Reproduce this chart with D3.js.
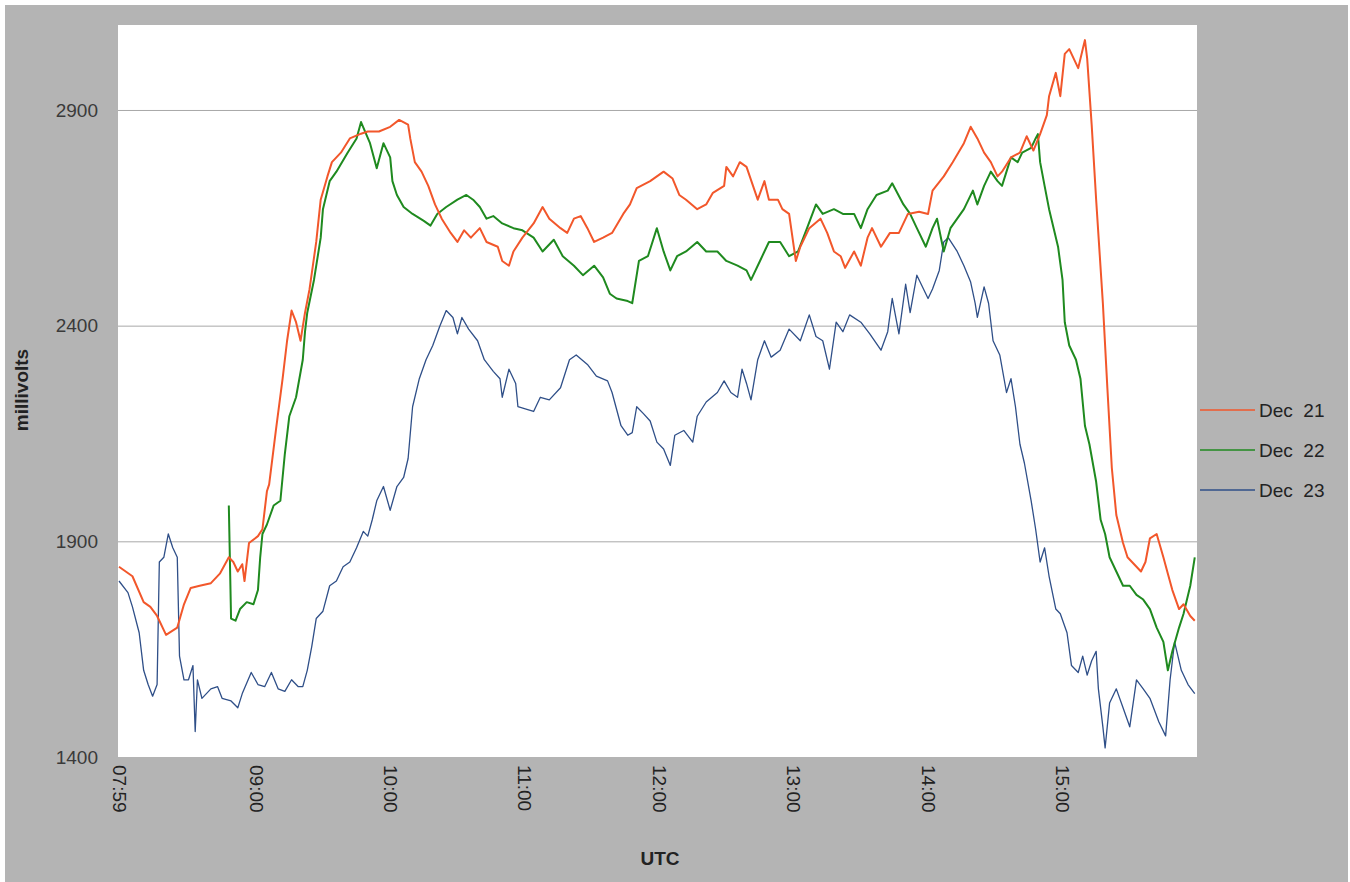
<!DOCTYPE html>
<html>
<head>
<meta charset="utf-8">
<script src="https://cdn.jsdelivr.net/npm/d3@7"></script>
<style>
  body { margin: 0; background: #ffffff; }
  text { font-family: "Liberation Sans", Arial, sans-serif; }
</style>
</head>
<body>
<div id="chart"></div>
<script>

// tick labels
let xTickLabels = ["07:59", "09:00", "10:00", "11:00", "12:00", "13:00", "14:00", "15:00"];
let yTickValues = [1400, 1900, 2400, 2900];

let seriesNames = ["Dec 21", "Dec 22", "Dec 23"];

// Dec 21
let dec21Times = ["07:59","08:05","08:10","08:13","08:16","08:20","08:25","08:28","08:31","08:35","08:40","08:44","08:48","08:50","08:52","08:54","08:55","08:57",
  "09:01","09:03","09:05","09:06","09:09","09:12","09:14","09:16","09:18","09:20","09:22","09:24","09:27","09:29","09:32","09:34","09:38","09:42","09:47","09:50","09:55",
  "10:00","10:04","10:08","10:09","10:11","10:14","10:17","10:20","10:23","10:27","10:30","10:33","10:36","10:40","10:43","10:48","10:50","10:53","10:55","10:59",
  "11:04","11:08","11:11","11:16","11:19","11:22","11:25","11:28","11:31","11:35","11:39","11:44","11:47","11:50","11:56",
  "12:02","12:06","12:09","12:12","12:17","12:21","12:24","12:29","12:30","12:33","12:36","12:39","12:44","12:47","12:49","12:53","12:55","12:58",
  "13:01","13:03","13:07","13:12","13:15","13:18","13:21","13:23","13:27","13:30","13:33","13:35","13:39","13:43","13:47","13:51","13:56",
  "14:00","14:02","14:07","14:11","14:16","14:19","14:22","14:25","14:28","14:31","14:33","14:37","14:41","14:44","14:47","14:50","14:53","14:54","14:57","14:59",
  "15:01","15:03","15:07","15:09","15:10","15:11","15:13","15:15","15:18","15:20","15:22","15:24","15:27","15:29","15:31","15:35","15:37","15:39","15:42","15:45","15:47","15:49","15:52","15:54","15:57","15:59"];
let dec21Values = [1841,1819,1759,1748,1727,1683,1700,1754,1792,1797,1803,1825,1863,1852,1830,1847,1808,1896,
  1912,1928,2016,2032,2157,2277,2365,2435,2408,2365,2430,2484,2594,2692,2746,2779,2801,2834,2845,2850,2850,
  2861,2877,2866,2833,2779,2757,2724,2681,2648,2615,2594,2621,2604,2626,2594,2583,2550,2539,2572,2604,
  2637,2675,2648,2626,2615,2648,2654,2626,2594,2604,2615,2659,2681,2719,2735,
  2757,2741,2703,2692,2670,2681,2708,2724,2768,2746,2779,2768,2692,2735,2692,2692,2670,2659,
  2550,2583,2626,2648,2615,2572,2561,2534,2572,2539,2604,2626,2583,2615,2615,2659,2664,
  2659,2713,2746,2779,2823,2861,2834,2801,2779,2746,2757,2790,2801,2839,2806,2844,2888,2932,2986,2932,
  3030,3041,2997,3041,3062,3019,2866,2692,2452,2256,2070,1961,1896,1863,1852,1830,1852,1907,1917,1863,1825,1787,1743,1754,1727,1716];

// Dec 22
let dec22Times = ["08:48","08:49","08:51","08:53","08:56","08:59",
  "09:01","09:02","09:03","09:05","09:08","09:11","09:13","09:15","09:18","09:21","09:22","09:23","09:26","09:29","09:30","09:33","09:36","09:41","09:45","09:47","09:51","09:54","09:57",
  "10:00","10:01","10:03","10:06","10:10","10:15","10:18","10:21","10:25","10:30","10:34","10:37","10:40","10:43","10:46","10:50","10:55","10:59",
  "11:04","11:08","11:13","11:17","11:22","11:26","11:31","11:35","11:38","11:41","11:46","11:48","11:51","11:55","11:59",
  "12:02","12:05","12:08","12:12","12:17","12:21","12:26","12:30","12:35","12:39","12:41","12:45","12:49","12:54","12:58",
  "13:02","13:06","13:10","13:13","13:18","13:22","13:27","13:30","13:33","13:37","13:42","13:44","13:49","13:52","13:55","13:59",
  "14:02","14:04","14:07","14:10","14:13","14:16","14:20","14:22","14:25","14:28","14:31","14:33","14:37","14:40","14:42","14:46","14:48","14:49","14:50","14:52","14:54","14:58",
  "15:00","15:01","15:03","15:06","15:08","15:10","15:12","15:15","15:17","15:19","15:21","15:24","15:27","15:30","15:33","15:36","15:39","15:42","15:45","15:47","15:49","15:52","15:54","15:57","15:59"];
let dec22Values = [1983,1721,1716,1743,1759,1754,
  1787,1863,1917,1939,1983,1994,2103,2190,2234,2321,2386,2430,2506,2604,2670,2735,2757,2801,2834,2872,2823,2765,2823,
  2790,2735,2703,2675,2659,2643,2632,2659,2675,2692,2703,2692,2675,2648,2654,2637,2626,2621,
  2604,2572,2599,2561,2539,2517,2539,2512,2474,2463,2457,2452,2550,2561,2626,
  2572,2528,2561,2572,2594,2572,2572,2550,2539,2528,2506,2550,2594,2594,2561,
  2572,2626,2681,2659,2670,2659,2659,2626,2670,2703,2713,2730,2681,2659,2626,2583,
  2626,2648,2572,2626,2648,2670,2713,2681,2724,2757,2735,2724,2790,2779,2801,2812,2834,2844,2779,2724,2670,2583,
  2506,2408,2354,2321,2277,2168,2125,2038,1950,1917,1863,1830,1797,1797,1776,1765,1743,1700,1667,1601,1645,1700,1732,1797,1863];

// Dec 23
let dec23Times = ["07:59","08:03","08:05","08:08","08:10","08:12","08:14","08:16","08:17","08:19","08:21","08:23","08:25","08:26","08:28","08:30","08:32","08:33","08:34","08:36","08:40","08:43","08:45","08:49","08:52","08:54","08:58",
  "09:01","09:04","09:07","09:10","09:13","09:16","09:19","09:21","09:23","09:25","09:27","09:30","09:33","09:36","09:39","09:42","09:45","09:48","09:50","09:52","09:54","09:57",
  "10:00","10:03","10:06","10:08","10:10","10:13","10:16","10:19","10:22","10:25","10:28","10:30","10:32","10:35","10:39","10:42","10:46","10:49","10:50","10:53","10:56","10:57",
  "11:01","11:04","11:07","11:11","11:16","11:20","11:23","11:28","11:32","11:37","11:39","11:43","11:46","11:48","11:50","11:53","11:56","11:59",
  "12:02","12:05","12:07","12:11","12:15","12:17","12:21","12:26","12:29","12:32","12:35","12:37","12:39","12:41","12:44","12:47","12:50","12:54","12:58",
  "13:03","13:07","13:10","13:13","13:16","13:19","13:22","13:25","13:30","13:34","13:39","13:42","13:44","13:47","13:50","13:52","13:55",
  "14:00","14:02","14:05","14:07","14:09","14:13","14:16","14:19","14:21","14:22","14:25","14:27","14:29","14:32","14:35","14:37","14:39","14:41","14:43","14:46","14:48","14:50","14:52","14:54","14:57","14:59",
  "15:02","15:04","15:07","15:09","15:11","15:13","15:15","15:16","15:18","15:19","15:21","15:24","15:27","15:30","15:33","15:36","15:39","15:43","15:46","15:48","15:50","15:53","15:56","15:59"];
let dec23Values = [1808,1781,1748,1688,1601,1568,1541,1568,1852,1863,1917,1885,1863,1634,1579,1579,1612,1459,1579,1536,1558,1563,1536,1530,1514,1547,1596,
  1568,1563,1596,1558,1552,1579,1563,1563,1601,1656,1721,1738,1797,1808,1841,1852,1885,1923,1912,1950,1994,2027,
  1972,2027,2048,2092,2212,2277,2321,2354,2397,2435,2419,2381,2419,2392,2365,2321,2294,2277,2234,2299,2266,2212,
  2206,2201,2234,2228,2256,2321,2332,2310,2283,2272,2245,2168,2146,2152,2212,2196,2179,2130,
  2114,2076,2146,2157,2130,2190,2223,2245,2272,2245,2234,2299,2266,2228,2321,2365,2327,2343,2392,
  2365,2425,2375,2365,2299,2408,2386,2425,2408,2381,2343,2386,2463,2381,2496,2430,2517,
  2463,2485,2528,2594,2604,2572,2539,2501,2452,2419,2490,2452,2365,2332,2245,2277,2212,2125,2081,1994,1928,1852,1885,1819,1743,1732,
  1688,1612,1596,1634,1590,1623,1645,1558,1470,1421,1525,1558,1514,1470,1579,1558,1536,1481,1449,1579,1667,1601,1568,1547];

let seriesColors = ["#f2572b", "#1f8a1f", "#2f4f88"];
let seriesWidths = [2, 2, 1.3];

function main(){

    let width = 1350;
    let height = 882;

    let plotLeft = 118;
    let plotRight = 1197;
    let plotTop = 25;
    let plotBottom = 757;

    let parseTime = d3.timeParse("%H:%M");

    let svg = d3.select("#chart")
                .append("svg")
                .attr("width", width)
                .attr("height", height);

    // grey frame and white plot area
    svg.append("rect")
        .attr("x", 5).attr("y", 5)
        .attr("width", width - 7).attr("height", height - 5)
        .attr("fill", "#b4b4b4");

    svg.append("rect")
        .attr("x", plotLeft).attr("y", plotTop)
        .attr("width", plotRight - plotLeft).attr("height", plotBottom - plotTop)
        .attr("fill", "#ffffff");

    let xScale = d3.scaleTime()
                    .domain([parseTime("07:59"), parseTime("16:00")])
                    .range([plotLeft + 1, plotRight]);

    let yScale = d3.scaleLinear()
                    .domain([1400, 3097])
                    .range([plotBottom, plotTop]);

    // gridlines + y labels
    let yAxis = d3.axisLeft(yScale)
                    .tickValues(yTickValues)
                    .tickSize(-(plotRight - plotLeft))
                    .tickPadding(20)
                    .tickFormat(d3.format("d"));

    let yG = svg.append("g")
        .attr("transform", `translate(${plotLeft},0)`)
        .call(yAxis);
    yG.select(".domain").remove();
    yG.selectAll(".tick line")
        .attr("stroke", d => d == 1400 ? "none" : "#a8a8a8")
        .attr("stroke-width", 1);
    yG.selectAll(".tick text")
        .attr("fill", "#3a3a3a")
        .style("font-size", "19px")
        .style("font-family", "'Liberation Sans', Arial, sans-serif");

    // x labels, rotated
    let xAxis = d3.axisBottom(xScale)
                    .tickValues(xTickLabels.map(parseTime))
                    .tickSize(0)
                    .tickFormat(d3.timeFormat("%H:%M"));

    let xG = svg.append("g")
        .attr("transform", `translate(0,${plotBottom})`)
        .call(xAxis);
    xG.select(".domain").remove();
    xG.selectAll(".tick text")
        .attr("transform", "rotate(90)")
        .attr("x", 8)
        .attr("y", 0)
        .attr("dy", "0.35em")
        .style("text-anchor", "start")
        .attr("fill", "#222")
        .style("font-size", "19px")
        .style("font-family", "'Liberation Sans', Arial, sans-serif");

    // axis titles
    svg.append("text")
        .attr("transform", `translate(28,390) rotate(-90)`)
        .attr("text-anchor", "middle")
        .attr("font-weight", "bold")
        .attr("font-size", "19px")
        .attr("fill", "#222")
        .text("millivolts");

    svg.append("text")
        .attr("x", 660)
        .attr("y", 865)
        .attr("text-anchor", "middle")
        .attr("font-weight", "bold")
        .attr("font-size", "19px")
        .attr("fill", "#222")
        .text("UTC");

    // lines
    let allSeries = [
        {times: dec21Times, values: dec21Values},
        {times: dec22Times, values: dec22Values},
        {times: dec23Times, values: dec23Values}
    ];

    let line = d3.line()
                .x(d => xScale(d[0]))
                .y(d => yScale(d[1]));

    let linesG = svg.append("g").attr("id", "lines");
    // blue first, then green, red on top like the reference
    let drawOrder = [2, 1, 0];
    drawOrder.forEach(i => {
        let s = allSeries[i];
        let pts = s.times.map((t, j) => [parseTime(t), s.values[j]]);
        linesG.append("path")
            .attr("d", line(pts))
            .attr("fill", "none")
            .attr("stroke", seriesColors[i])
            .attr("stroke-width", seriesWidths[i])
            .attr("stroke-linejoin", "round");
    });

    // legend on the grey margin
    let legend = svg.append("g")
                    .attr("transform", `translate(1200,410)`);

    seriesNames.forEach((name, i) => {
        let row = legend.append("g").attr("transform", `translate(0,${i*40})`);
        row.append("line")
            .attr("x1", 0).attr("x2", 55)
            .attr("y1", 0).attr("y2", 0)
            .attr("stroke", seriesColors[i])
            .attr("stroke-width", 1.5);
        row.append("text")
            .attr("x", 59)
            .attr("y", 0)
            .attr("dy", "0.35em")
            .attr("font-size", "19px")
            .attr("fill", "#222")
            .style("white-space", "pre")
            .text(name.replace(" ", "  "));
    });
}

main();
</script>
</body>
</html>
